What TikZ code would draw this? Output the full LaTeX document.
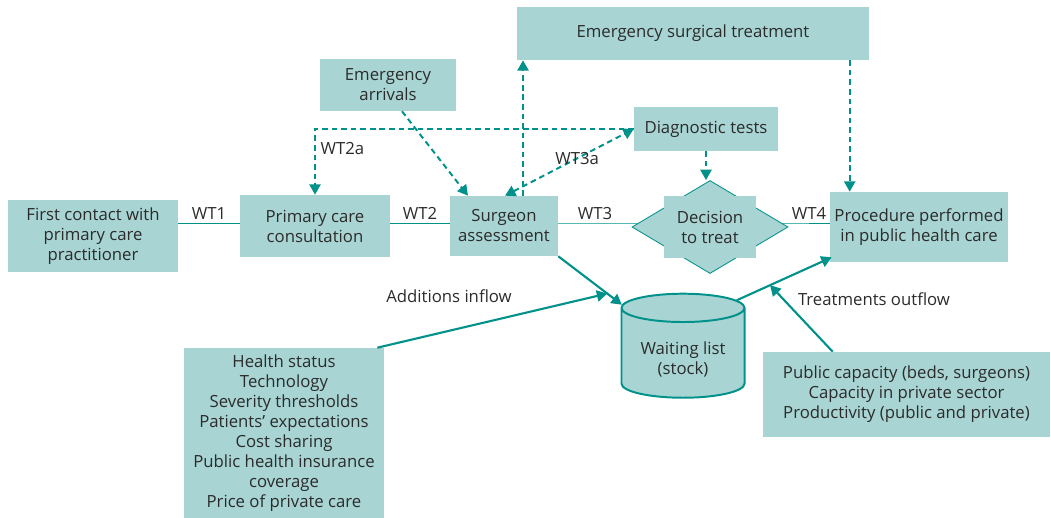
\documentclass[tikz,border=0pt]{standalone}
\usepackage{fontspec}
\setmainfont{Open Sans}
\usetikzlibrary{arrows.meta, positioning, shapes.geometric, backgrounds}
\definecolor{wlfill}{HTML}{A8D4D3}
\definecolor{wlteal}{HTML}{00928A}
\definecolor{wltext}{HTML}{2B2B2B}
\newcommand{\wlfont}{\fontsize{11.9}{14.2}\selectfont}

\begin{document}
\begin{tikzpicture}[x=0.025cm, y=-0.025cm,
    box/.style 2 args={fill=wlfill, text=wltext, align=center, inner sep=2pt, font=\wlfont,
                       minimum width=#1cm, minimum height=#2cm},
    wlabel/.style={text=wltext, font=\wlfont},
    wtline/.style={draw=wlteal, line width=0.7pt},
    wtlbl/.style={wlabel, above, inner sep=2pt},
    dasharrow/.style={draw=wlteal, line width=1.4pt, dash pattern=on 4pt off 2.8pt,
                      -{Triangle[length=2.6mm, width=2.8mm]}},
    flowarrow/.style={draw=wlteal, line width=1.5pt, -{Triangle[length=2.6mm, width=2.8mm]}},
]
    \useasboundingbox (0,0) rectangle (1051,518);

    % boxes
    \node[box={4.25}{1.8}] (first) at (93,236) {First contact with\\primary care\\practitioner};
    \node[box={3.75}{1.55}] (primary) at (315,226) {Primary care\\consultation};
    \node[box={2.7}{1.5}] (surgeon) at (504,226) {Surgeon\\assessment};
    \node[diamond, fill=wlfill, draw=wlteal, line width=0.6pt, inner sep=0pt,
          minimum width=3.9cm, minimum height=2.325cm] (dec) at (710,227) {};
    \node[box={2.3}{1.525}] (dectxt) at (dec.center) {Decision\\to treat};
    \node[box={4.45}{1.75}] (proc) at (919,227) {Procedure performed\\in public health care};
    \node[box={3.4}{1.3}] (arrivals) at (388,85) {Emergency\\arrivals};
    \node[box={8.8}{1.325}] (emsurg) at (693,33.5) {Emergency surgical treatment};
    \node[box={3.6}{1.1}] (diag) at (706,129) {Diagnostic tests};
    \node[box={5.0}{4.25}] (health) at (284,433) {Health status\\Technology\\Severity thresholds\\Patients’ expectations\\Cost sharing\\Public health insurance\\coverage\\Price of private care};
    \node[box={7.175}{2.125}] (capacity) at (906.5,394.5) {Public capacity (beds, surgeons)\\Capacity in private sector\\Productivity (public and private)};
    \node[cylinder, shape border rotate=90, aspect=0.3, fill=wlfill, draw=wlteal, line width=1.4pt,
          text=wltext, align=center, font=\wlfont,
          minimum width=3.075cm, minimum height=2.6cm] (wait) at (683,356) {\mbox{}\\Waiting list\\(stock)};

    % waiting times along the pathway
    \coordinate (row) at (0,223);
    \begin{scope}[on background layer]
        \draw[wtline] (first.east |- row) -- node[wtlbl] {WT1} (primary.west |- row);
        \draw[wtline] (primary.east |- row) -- node[wtlbl] {WT2} (surgeon.west |- row);
        \draw[wtline] (surgeon.east |- row) -- node[wtlbl] {WT3} (dec.west |- row) -- (dec.center |- row);
        \draw[wtline] (dec.center |- row) -- (dec.east |- row) -- node[wtlbl] {WT4} (proc.west |- row);
    \end{scope}

    % dashed routes
    \draw[dasharrow] ([xshift=0.35cm]arrivals.south) -- ([xshift=-0.9cm]surgeon.north);
    \draw[dasharrow] ([xshift=0.475cm]surgeon.north) -- ([xshift=0.475cm]surgeon.north |- emsurg.south);
    \draw[dasharrow] (diag.west) -| node[wlabel, pos=0.65, right] {WT2a} (primary.north);
    \draw[dasharrow, {Triangle[length=2.6mm, width=2.8mm]}-{Triangle[length=2.6mm, width=2.8mm]}]
        ([xshift=0.025cm]surgeon.north) -- node[wlabel, pos=0.56] {WT3a} (diag.west);
    \draw[dasharrow] (diag.south) -- (diag.south |- dec.north);
    \draw[dasharrow] ([xshift=0.5cm]proc.north west |- emsurg.south) -- ([xshift=0.5cm]proc.north west);

    % stock and flows
    \draw[flowarrow] (surgeon.south east) -- coordinate[pos=0.77] (inflow) (wait.140);
    \draw[flowarrow] (wait.46) -- coordinate[pos=0.35] (outflow) ([xshift=0.05cm, yshift=0.125cm]proc.south west);
    \draw[flowarrow] ([xshift=-0.175cm]health.north east) -- (inflow);
    \draw[flowarrow] ([xshift=1.75cm]capacity.north west) -- (outflow);

    \node[wlabel] (addlbl) at (449,296) {Additions inflow};
    \node[wlabel] (outlbl) at (874,299) {Treatments outflow};
\end{tikzpicture}
\end{document}
